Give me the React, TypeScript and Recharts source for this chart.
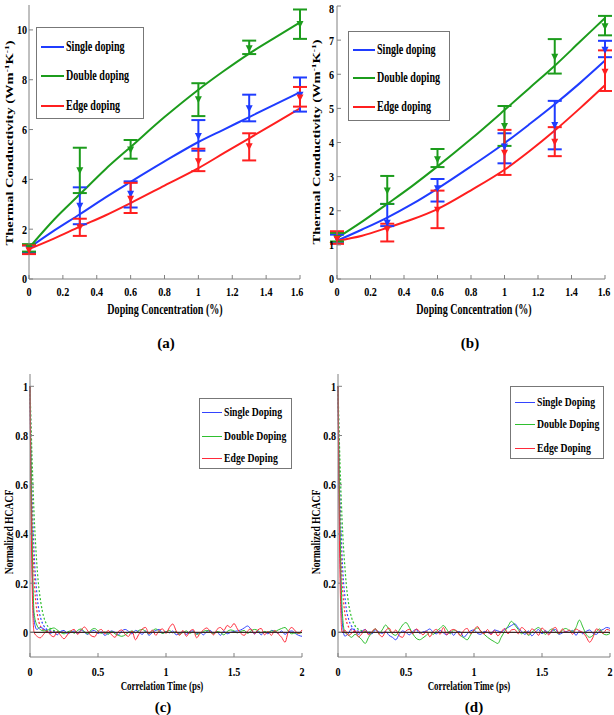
import React from 'react';
import {
  ComposedChart,
  Line,
  Scatter,
  ErrorBar,
  XAxis,
  YAxis,
  Legend,
  ReferenceLine,
} from 'recharts';

const FONT = '"Liberation Serif", "Times New Roman", serif';
const FRAME = '#808080';

// ---- panels (a) and (b): thermal conductivity vs doping concentration
const concX = [0, 0.3, 0.6, 1.0, 1.3, 1.6];
const fitX = [0, 0.15, 0.3, 0.45, 0.6, 0.8, 1.0, 1.15, 1.3, 1.45, 1.6];
const concTicks = [0, 0.2, 0.4, 0.6, 0.8, 1, 1.2, 1.4, 1.6];
const kTicksA = [0, 2, 4, 6, 8, 10];
const kTicksB = [0, 1, 2, 3, 4, 5, 6, 7, 8];

// (a) measured points with error bar ends
const singleA = [1.2, 2.94, 3.42, 5.74, 6.85, 7.4];
const singleALow = [1.05, 2.2, 2.87, 5.15, 6.33, 6.72];
const singleAHigh = [1.35, 3.68, 3.92, 6.38, 7.4, 8.09];
const doubleA = [1.25, 4.37, 5.2, 7.22, 9.26, 10.24];
const doubleALow = [1.1, 3.45, 4.83, 6.54, 9.03, 9.64];
const doubleAHigh = [1.4, 5.27, 5.58, 7.86, 9.57, 10.82];
const edgeA = [1.15, 2.08, 3.22, 4.73, 5.33, 7.29];
const edgeALow = [1.0, 1.73, 2.65, 4.33, 4.76, 6.92];
const edgeAHigh = [1.35, 2.42, 3.86, 5.23, 5.85, 7.71];
// (a) fitted curves
const singleFitA = [1.25, 1.95, 2.6, 3.27, 3.9, 4.72, 5.5, 6.0, 6.5, 7.0, 7.5];
const doubleFitA = [1.25, 2.4, 3.4, 4.4, 5.3, 6.5, 7.6, 8.35, 9.05, 9.68, 10.3];
const edgeFitA = [1.2, 1.63, 2.1, 2.55, 3.05, 3.75, 4.45, 5.05, 5.65, 6.25, 6.85];

// (b)
const singleB = [1.18, 1.65, 2.66, 3.88, 4.51, 6.72];
const singleBLow = [1.05, 1.55, 2.27, 3.39, 3.8, 6.5];
const singleBHigh = [1.3, 2.2, 2.93, 4.27, 5.22, 6.98];
const doubleB = [1.2, 2.59, 3.51, 4.48, 6.51, 7.41];
const doubleBLow = [1.1, 2.2, 3.28, 3.9, 6.02, 7.14];
const doubleBHigh = [1.35, 3.02, 3.81, 5.07, 7.03, 7.71];
const edgeB = [1.18, 1.46, 2.03, 3.7, 4.02, 6.07];
const edgeBLow = [1.03, 1.1, 1.49, 3.05, 3.6, 5.51];
const edgeBHigh = [1.4, 1.62, 2.59, 4.37, 4.45, 6.7];
const singleFitB = [1.12, 1.45, 1.8, 2.2, 2.65, 3.3, 3.98, 4.54, 5.12, 5.74, 6.4];
const doubleFitB = [1.2, 1.68, 2.2, 2.73, 3.3, 4.1, 4.95, 5.6, 6.25, 6.95, 7.65];
const edgeFitB = [1.12, 1.27, 1.5, 1.75, 2.05, 2.6, 3.2, 3.75, 4.35, 5.0, 5.68];

// ---- panels (c) and (d): normalized HCACF
const timeTicks = [0, 0.5, 1, 1.5, 2];
const hcacfTicks = [0, 0.2, 0.4, 0.6, 0.8, 1];
const decayT = [0, 0.01, 0.02, 0.03, 0.04, 0.05, 0.06, 0.08, 0.1, 0.12, 0.15, 0.2, 0.25];
const hcacfT = [
  0, 0.01, 0.02, 0.03,
  0.05, 0.075, 0.1, 0.125, 0.15, 0.175, 0.2, 0.225, 0.25, 0.275,
  0.3, 0.325, 0.35, 0.375, 0.4, 0.425, 0.45, 0.475, 0.5, 0.525,
  0.55, 0.575, 0.6, 0.625, 0.65, 0.675, 0.7, 0.725, 0.75, 0.775,
  0.8, 0.825, 0.85, 0.875, 0.9, 0.925, 0.95, 0.975, 1.0, 1.025,
  1.05, 1.075, 1.1, 1.125, 1.15, 1.175, 1.2, 1.225, 1.25, 1.275,
  1.3, 1.325, 1.35, 1.375, 1.4, 1.425, 1.45, 1.475, 1.5, 1.525,
  1.55, 1.575, 1.6, 1.625, 1.65, 1.675, 1.7, 1.725, 1.75, 1.775,
  1.8, 1.825, 1.85, 1.875, 1.9, 1.925, 1.95, 1.975, 2.0,
];

const singleDecayC = [1, 0.7, 0.48, 0.33, 0.23, 0.16, 0.11, 0.055, 0.028, 0.014, 0.006, 0.001, 0];
const doubleDecayC = [1, 0.8, 0.63, 0.48, 0.37, 0.28, 0.21, 0.12, 0.065, 0.035, 0.015, 0.004, 0];
const edgeDecayC = [1, 0.6, 0.37, 0.23, 0.14, 0.09, 0.055, 0.022, 0.01, 0.005, 0.002, 0, 0];
const singleHcacfC = [
  1.0, 0.5, 0.18, 0.05,
  0.012, 0.02, 0.015, 0.004, -0.004, 0.002, -0.01, 0.004, 0.008, -0.006,
  0.0, 0.006, -0.004, 0.01, 0.0, -0.008, 0.004, 0.008, -0.005, 0.002,
  -0.012, -0.004, 0.006, 0.0, -0.01, 0.006, 0.012, 0.004, -0.006, 0.008,
  0.002, -0.008, 0.006, -0.012, 0.0, 0.008, 0.012, -0.004, 0.004, -0.002,
  0.006, -0.01, -0.004, 0.002, -0.008, 0.004, 0.006, -0.006, 0.0, -0.01,
  0.004, 0.008, -0.004, 0.002, -0.012, 0.006, -0.006, 0.0, 0.004, 0.006,
  0.01, 0.018, 0.026, 0.012, -0.006, 0.004, -0.01, 0.002, -0.006, 0.008,
  0.004, -0.004, 0.006, -0.008, 0.002, 0.006, -0.004, -0.012, -0.016,
];
const doubleHcacfC = [
  1.0, 0.6, 0.25, 0.08,
  0.03, 0.012, 0.006, 0.008, 0.014, 0.018, 0.01, 0.0, -0.006, 0.002,
  0.006, -0.004, 0.008, 0.014, 0.004, -0.006, 0.01, 0.016, 0.006, -0.004,
  0.002, -0.008, 0.004, -0.006, -0.012, -0.016, -0.01, 0.0, 0.006, -0.002,
  0.008, 0.012, 0.004, -0.006, 0.006, 0.014, 0.004, -0.004, 0.002, 0.008,
  -0.002, 0.004, -0.008, 0.0, 0.006, -0.004, 0.002, -0.008, -0.004, 0.004,
  0.008, 0.002, -0.006, 0.004, 0.0, -0.01, 0.004, 0.01, 0.006, -0.002,
  0.004, 0.008, -0.004, 0.006, 0.012, 0.008, -0.002, 0.004, 0.0, 0.006,
  0.004, 0.01, 0.016, 0.02, 0.004, -0.006, -0.002, -0.004, 0.0,
];
const edgeHcacfC = [
  1.0, 0.4, 0.1, 0.0,
  -0.015, -0.022, -0.008, 0.006, -0.01, -0.018, 0.004, -0.012, -0.026, -0.01,
  0.006, 0.012, -0.008, 0.008, 0.022, 0.006, -0.014, -0.018, 0.004, 0.012,
  -0.006, 0.008, -0.01, -0.02, 0.004, 0.01, -0.008, -0.016, 0.006, -0.03,
  -0.008, 0.014, 0.02, -0.006, 0.01, -0.012, 0.008, 0.014, -0.004, 0.02,
  0.034, 0.006, -0.012, 0.008, -0.016, 0.004, 0.012, -0.022, -0.004, 0.01,
  0.018, 0.004, -0.01, 0.012, 0.02, 0.008, 0.028, 0.02, 0.036, 0.014,
  -0.004, -0.012, 0.006, 0.014, -0.006, 0.01, 0.016, -0.01, 0.004, -0.012,
  0.008, -0.006, -0.02, -0.04, 0.004, 0.02, 0.006, -0.004, 0.01,
];

const singleDecayD = [1, 0.68, 0.46, 0.31, 0.21, 0.15, 0.1, 0.05, 0.025, 0.012, 0.005, 0.001, 0];
const doubleDecayD = [1, 0.78, 0.6, 0.46, 0.35, 0.27, 0.2, 0.11, 0.06, 0.032, 0.013, 0.003, 0];
const edgeDecayD = [1, 0.58, 0.35, 0.21, 0.13, 0.08, 0.05, 0.02, 0.009, 0.004, 0.001, 0, 0];
const singleHcacfD = [
  1.0, 0.5, 0.2, 0.05,
  -0.015, -0.006, 0.015, 0.006, -0.008, 0.004, 0.012, -0.004, -0.006, 0.01,
  0.002, -0.004, 0.004, -0.012, -0.02, -0.03, -0.008, 0.006, 0.0, -0.01,
  0.004, 0.012, -0.004, 0.002, 0.006, 0.014, 0.0, -0.006, 0.008, -0.002,
  -0.01, 0.006, -0.012, 0.004, 0.002, -0.02, -0.006, 0.006, 0.01, -0.004,
  -0.008, 0.004, 0.0, -0.006, 0.01, 0.006, 0.002, 0.012, 0.02, 0.028,
  0.035, 0.018, 0.004, -0.008, 0.006, -0.014, 0.0, 0.012, -0.006, 0.008,
  -0.004, 0.006, 0.012, -0.008, -0.002, 0.004, 0.0, 0.008, -0.012, 0.006,
  -0.006, 0.004, 0.01, -0.004, -0.008, 0.006, 0.012, 0.02, 0.016,
];
const doubleHcacfD = [
  1.0, 0.6, 0.28, 0.1,
  0.0, -0.01, -0.02, -0.008, -0.016, -0.03, -0.045, -0.02, 0.0, 0.015,
  -0.006, 0.01, 0.03, 0.012, -0.006, -0.012, 0.008, 0.03, 0.04, 0.02,
  -0.006, -0.024, -0.03, -0.022, -0.012, 0.0, -0.008, 0.006, 0.016, 0.028,
  0.012, -0.006, 0.01, 0.004, -0.012, -0.022, -0.03, -0.01, 0.008, 0.018,
  0.006, -0.008, -0.02, -0.03, -0.038, -0.045, -0.02, 0.004, 0.025, 0.045,
  0.03, 0.012, -0.006, 0.004, -0.012, 0.0, 0.012, 0.02, 0.006, -0.008,
  0.006, 0.014, 0.002, -0.006, 0.01, 0.016, 0.008, 0.004, 0.02, 0.05,
  0.022, -0.008, -0.02, -0.012, 0.004, 0.014, -0.006, -0.01, -0.004,
];
const edgeHcacfD = [
  1.0, 0.4, 0.1, 0.0,
  0.01, -0.012, -0.004, 0.008, -0.018, -0.006, 0.012, -0.01, 0.004, 0.014,
  -0.006, -0.018, 0.006, 0.018, -0.004, 0.01, -0.014, -0.02, 0.006, 0.012,
  -0.006, 0.014, 0.004, -0.01, 0.006, -0.018, 0.004, 0.012, -0.008, 0.02,
  -0.01, 0.006, 0.012, 0.004, -0.014, 0.008, 0.016, -0.006, 0.01, 0.024,
  0.004, -0.006, 0.012, -0.01, 0.008, -0.014, 0.002, 0.016, -0.006, 0.01,
  0.012, -0.006, 0.02, 0.01, -0.008, 0.014, 0.006, -0.012, 0.018, 0.004,
  -0.01, 0.012, 0.02, -0.006, 0.014, 0.0, 0.01, -0.008, 0.014, 0.006,
  0.0, -0.018, -0.04, -0.02, 0.014, 0.006, -0.004, 0.012, 0.008,
];

const BLUE = '#1f3cff';
const GREEN = '#1c9c1c';
const RED = '#ff1f1f';
const BLUE2 = '#3344ff';
const GREEN2 = '#2fbf2f';
const RED2 = '#ff2a3a';

const toLine = (xs: number[], ys: number[]) => xs.map((x, i) => ({ x, y: ys[i] }));
const toPoints = (ys: number[], lo: number[], hi: number[]) =>
  concX.map((x, i) => ({ x, y: ys[i], err: [ys[i] - lo[i], hi[i] - ys[i]] }));

const XTick = (props: any) => {
  const { x, y, payload } = props;
  return (
    <text
      transform={`translate(${x},${y}) scale(0.78,1)`}
      textAnchor="middle"
      dy="0.72em"
      fontFamily={FONT}
      fontWeight="bold"
      fontSize={13}
      fill="#000"
    >
      {String(payload.value)}
    </text>
  );
};

const YTick = (props: any) => {
  const { x, y, payload } = props;
  return (
    <text
      transform={`translate(${x},${y}) scale(0.78,1)`}
      textAnchor="end"
      dy="0.34em"
      fontFamily={FONT}
      fontWeight="bold"
      fontSize={13}
      fill="#000"
    >
      {String(payload.value)}
    </text>
  );
};

const downTriangle = (color: string) => (props: any) => {
  const { cx, cy } = props;
  if (cx == null || cy == null) return <g />;
  return <polygon points={`${cx - 3.5},${cy - 3} ${cx + 3.5},${cy - 3} ${cx},${cy + 4}`} fill={color} />;
};

type Item = { name: string; color: string };

const LegendBox = ({ items, rows, line, textX, fontSize, lineWidth, w, h }: any) => (
  <div
    style={{
      position: 'relative',
      width: w,
      height: h,
      border: '1px solid #777',
      background: '#fff',
      boxSizing: 'border-box',
    }}
  >
    {items.map((it: Item, i: number) => (
      <React.Fragment key={it.name}>
        <div
          style={{
            position: 'absolute',
            left: line[0],
            top: rows[i] - lineWidth / 2,
            width: line[1] - line[0],
            height: lineWidth,
            background: it.color,
          }}
        />
        <div
          style={{
            position: 'absolute',
            left: textX,
            top: rows[i],
            transform: 'translateY(-50%) scaleX(0.72)',
            transformOrigin: '0 50%',
            fontFamily: FONT,
            fontWeight: 'bold',
            fontSize,
            lineHeight: 1,
            whiteSpace: 'nowrap',
            color: '#000',
          }}
        >
          {it.name}
        </div>
      </React.Fragment>
    ))}
  </div>
);

const frameAxes = (xDomain: number[], xTicks: number[], yDomain: number[], yTicks: number[]) => [
  <XAxis
    key="top"
    xAxisId="top"
    orientation="top"
    type="number"
    dataKey="x"
    domain={xDomain}
    ticks={xTicks}
    height={0}
    tick={false}
    tickSize={-4}
    axisLine={{ stroke: FRAME }}
    tickLine={{ stroke: FRAME }}
  />,
  <YAxis
    key="right"
    yAxisId="right"
    orientation="right"
    type="number"
    dataKey="y"
    domain={yDomain}
    ticks={yTicks}
    width={0}
    tick={false}
    tickSize={-4}
    axisLine={{ stroke: FRAME }}
    tickLine={{ stroke: FRAME }}
  />,
];

const ConcPanel = ({ yMax, yTicks, fits, points, legend, top, right, yWidth, yMargin }: any) => (
  <ComposedChart width={307} height={330} margin={{ top, right, left: 0, bottom: 0 }}>
    <XAxis
      type="number"
      dataKey="x"
      domain={[0, 1.6]}
      ticks={concTicks}
      height={51}
      tick={XTick}
      tickSize={-4}
      tickMargin={12}
      axisLine={{ stroke: FRAME }}
      tickLine={{ stroke: FRAME }}
    />
    <YAxis
      type="number"
      dataKey="y"
      domain={[0, yMax]}
      ticks={yTicks}
      width={yWidth}
      tick={YTick}
      tickSize={-4}
      tickMargin={yMargin}
      axisLine={{ stroke: FRAME }}
      tickLine={{ stroke: FRAME }}
    />
    {frameAxes([0, 1.6], concTicks, [0, yMax], yTicks)}
    {fits.map((f: any) => (
      <Line
        key={'fit-' + f.color}
        data={toLine(fitX, f.values)}
        dataKey="y"
        type="monotone"
        stroke={f.color}
        strokeWidth={2}
        dot={false}
        isAnimationActive={false}
      />
    ))}
    {points.map((p: any) => (
      <Scatter
        key={'pts-' + p.color}
        data={p.data}
        dataKey="y"
        fill={p.color}
        shape={downTriangle(p.color)}
        isAnimationActive={false}
      >
        <ErrorBar dataKey="err" direction="y" width={7} stroke={p.color} strokeWidth={2} isAnimationActive={false} />
      </Scatter>
    ))}
    <Legend
      layout="vertical"
      align="center"
      verticalAlign="middle"
      wrapperStyle={legend.wrapper}
      content={() => <LegendBox {...legend.box} />}
    />
  </ComposedChart>
);

const HcacfPanel = ({ decay, solid, legend, right, yWidth }: any) => (
  <ComposedChart width={307} height={350} margin={{ top: 24, right, left: 0, bottom: 0 }}>
    <XAxis
      type="number"
      dataKey="x"
      domain={[0, 2]}
      ticks={timeTicks}
      height={43}
      tick={XTick}
      tickSize={-4}
      tickMargin={14}
      axisLine={{ stroke: FRAME }}
      tickLine={{ stroke: FRAME }}
    />
    <YAxis
      type="number"
      dataKey="y"
      domain={[-0.1, 1.05]}
      ticks={hcacfTicks}
      width={yWidth}
      tick={YTick}
      tickSize={-4}
      tickMargin={6}
      axisLine={{ stroke: FRAME }}
      tickLine={{ stroke: FRAME }}
    />
    {frameAxes([0, 2], timeTicks, [-0.1, 1.05], hcacfTicks)}
    {decay.map((s: any) => (
      <Line
        key={'decay-' + s.color}
        data={toLine(decayT, s.values)}
        dataKey="y"
        type="monotone"
        stroke={s.color}
        strokeWidth={1.2}
        strokeDasharray="2 2"
        dot={false}
        isAnimationActive={false}
      />
    ))}
    {solid.map((s: any) => (
      <Line
        key={'acf-' + s.color}
        data={toLine(hcacfT, s.values)}
        dataKey="y"
        type="monotone"
        stroke={s.color}
        strokeWidth={1}
        dot={false}
        isAnimationActive={false}
      />
    ))}
    <ReferenceLine y={0} stroke="#3d2626" strokeWidth={1.4} />
    <Legend
      layout="vertical"
      align="center"
      verticalAlign="middle"
      wrapperStyle={legend.wrapper}
      content={() => <LegendBox {...legend.box} />}
    />
  </ComposedChart>
);

const Txt = ({ x, y, size, sx = 0.72, sy = 1, rotate = false, children }: any) => (
  <div
    style={{
      position: 'absolute',
      left: x,
      top: y,
      transform: `translate(-50%,-50%)${rotate ? ' rotate(-90deg)' : ''} scale(${sx},${sy})`,
      fontFamily: FONT,
      fontWeight: 'bold',
      fontSize: size,
      lineHeight: 1,
      whiteSpace: 'nowrap',
      color: '#000',
    }}
  >
    {children}
  </div>
);

const concItems: Item[] = [
  { name: 'Single doping', color: BLUE },
  { name: 'Double doping', color: GREEN },
  { name: 'Edge doping', color: RED },
];
const acfItems: Item[] = [
  { name: 'Single Doping', color: BLUE2 },
  { name: 'Double Doping', color: GREEN2 },
  { name: 'Edge Doping', color: RED2 },
];

const kLabel = (
  <>
    Thermal Conductivity (Wm<sup style={{ fontSize: '0.65em' }}>-1</sup>K<sup style={{ fontSize: '0.65em' }}>-1</sup>)
  </>
);

export default function App() {
  return (
    <div style={{ position: 'absolute', left: 0, top: 0, width: 614, height: 715, background: '#fff' }}>
      <div style={{ position: 'absolute', left: 0, top: 0 }}>
        <ConcPanel
          yMax={11}
          yTicks={kTicksA}
          top={5}
          right={7}
          yWidth={29}
          yMargin={6}
          fits={[
            { color: BLUE, values: singleFitA },
            { color: GREEN, values: doubleFitA },
            { color: RED, values: edgeFitA },
          ]}
          points={[
            { color: BLUE, data: toPoints(singleA, singleALow, singleAHigh) },
            { color: GREEN, data: toPoints(doubleA, doubleALow, doubleAHigh) },
            { color: RED, data: toPoints(edgeA, edgeALow, edgeAHigh) },
          ]}
          legend={{
            wrapper: { left: 36, top: 27, width: 108, height: 92 },
            box: { items: concItems, rows: [19, 48, 78], line: [4, 27], textX: 29, fontSize: 14, lineWidth: 2, w: 108, h: 92 },
          }}
        />
      </div>
      <div style={{ position: 'absolute', left: 307, top: 0 }}>
        <ConcPanel
          yMax={8}
          yTicks={kTicksB}
          top={6}
          right={9}
          yWidth={30}
          yMargin={7}
          fits={[
            { color: BLUE, values: singleFitB },
            { color: GREEN, values: doubleFitB },
            { color: RED, values: edgeFitB },
          ]}
          points={[
            { color: BLUE, data: toPoints(singleB, singleBLow, singleBHigh) },
            { color: GREEN, data: toPoints(doubleB, doubleBLow, doubleBHigh) },
            { color: RED, data: toPoints(edgeB, edgeBLow, edgeBHigh) },
          ]}
          legend={{
            wrapper: { left: 41, top: 31, width: 102, height: 90 },
            box: { items: concItems, rows: [18, 46, 75], line: [4, 26], textX: 28, fontSize: 14, lineWidth: 2, w: 102, h: 90 },
          }}
        />
      </div>
      <div style={{ position: 'absolute', left: 0, top: 350 }}>
        <HcacfPanel
          right={5}
          yWidth={30}
          decay={[
            { color: BLUE2, values: singleDecayC },
            { color: GREEN2, values: doubleDecayC },
            { color: RED2, values: edgeDecayC },
          ]}
          solid={[
            { color: BLUE2, values: singleHcacfC },
            { color: GREEN2, values: doubleHcacfC },
            { color: RED2, values: edgeHcacfC },
          ]}
          legend={{
            wrapper: { left: 199, top: 48, width: 93, height: 71 },
            box: { items: acfItems, rows: [13, 37, 59], line: [2, 22], textX: 24, fontSize: 13.5, lineWidth: 1, w: 93, h: 71 },
          }}
        />
      </div>
      <div style={{ position: 'absolute', left: 307, top: 350 }}>
        <HcacfPanel
          right={4}
          yWidth={31}
          decay={[
            { color: BLUE2, values: singleDecayD },
            { color: GREEN2, values: doubleDecayD },
            { color: RED2, values: edgeDecayD },
          ]}
          solid={[
            { color: BLUE2, values: singleHcacfD },
            { color: GREEN2, values: doubleHcacfD },
            { color: RED2, values: edgeHcacfD },
          ]}
          legend={{
            wrapper: { left: 203, top: 36, width: 94, height: 73 },
            box: { items: acfItems, rows: [15, 37, 61], line: [4, 24], textX: 26, fontSize: 13.5, lineWidth: 1, w: 94, h: 73 },
          }}
        />
      </div>

      {/* axis titles and captions */}
      <Txt x={9} y={143} size={14.5} sx={1} sy={0.72} rotate>{kLabel}</Txt>
      <Txt x={316} y={142} size={14.5} sx={1} sy={0.72} rotate>{kLabel}</Txt>
      <Txt x={165} y={310} size={14}>Doping Concentration (%)</Txt>
      <Txt x={474} y={310} size={14}>Doping Concentration (%)</Txt>
      <Txt x={166} y={343} size={15} sx={1}>(a)</Txt>
      <Txt x={470} y={343} size={15} sx={1}>(b)</Txt>
      <Txt x={9} y={532} size={12} sx={0.8} rotate>Normalized HCACF</Txt>
      <Txt x={316} y={532} size={12} sx={0.8} rotate>Normalized HCACF</Txt>
      <Txt x={162} y={686} size={13.5} sx={0.66}>Correlation Time (ps)</Txt>
      <Txt x={469} y={686} size={13.5} sx={0.66}>Correlation Time (ps)</Txt>
      <Txt x={163} y={707} size={15} sx={1}>(c)</Txt>
      <Txt x={474} y={707} size={15} sx={1}>(d)</Txt>
    </div>
  );
}
